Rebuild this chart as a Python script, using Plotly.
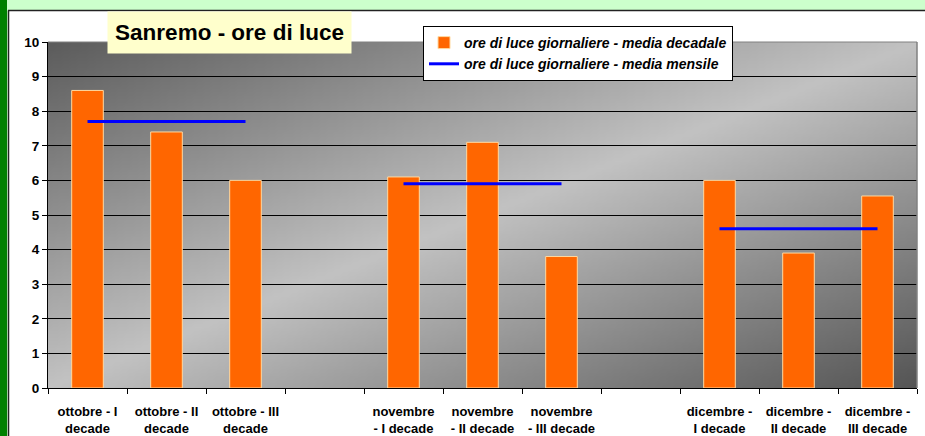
import base64, struct, zlib
import plotly.graph_objects as go

# ---- data ----
categories = ["ottobre - I<br>decade", "ottobre - II<br>decade", "ottobre - III<br>decade", "",
              "novembre<br>- I decade", "novembre<br>- II decade", "novembre<br>- III decade", "",
              "dicembre -<br>I decade", "dicembre -<br>II decade", "dicembre -<br>III decade"]
decade_values = [8.6, 7.4, 6.0, None, 6.1, 7.1, 3.8, None, 6.0, 3.9, 5.55]
month_means = [7.7, 5.9, 4.6]
month_first_idx = [0, 4, 8]
month_last_idx = [2, 6, 10]
y_ticks = list(range(0, 11))

# ---- geometry helpers (pixel layout) ----
W, H = 925, 436
ML, MR, MT, MB = 48, 8, 42, 48
PW, PH = W - ML - MR, H - MT - MB
def px(x):
    return (x - ML) / PW
def py(y):
    return (H - MB - y) / PH

# ---- gradient background image ----
def gradient_uri(w=240, h=100, dark_tl=0x5c, light=0xc2, dark_br=0x55):
    rows = []
    for j in range(h):
        yd = 1 - j / (h - 1)
        row = bytearray([0])
        for i in range(w):
            xd = i / (w - 1)
            t = (xd + (1 - yd)) / 2
            if t <= 0.5:
                v = dark_tl + (light - dark_tl) * (t / 0.5)
            else:
                v = light + (dark_br - light) * ((t - 0.5) / 0.5)
            v = int(round(v))
            row += bytes([v, v, v])
        rows.append(bytes(row))
    raw = b"".join(rows)
    def chunk(tag, data):
        c = struct.pack(">I", len(data)) + tag + data
        return c + struct.pack(">I", zlib.crc32(tag + data) & 0xffffffff)
    png = b"\x89PNG\r\n\x1a\n" + chunk(b"IHDR", struct.pack(">IIBBBBB", w, h, 8, 2, 0, 0, 0)) \
        + chunk(b"IDAT", zlib.compress(raw, 9)) + chunk(b"IEND", b"")
    return "data:image/png;base64," + base64.b64encode(png).decode()

FONT = "Arial, Liberation Sans, sans-serif"
TICK_SIZE = 13.5
XTICK_SIZE = 13
xs = list(range(len(categories)))

fig = go.Figure()
fig.add_trace(go.Bar(
    x=xs, y=decade_values, width=0.4,
    name="ore di luce giornaliere - media decadale",
    marker=dict(color="#FF6600", line=dict(color="#FFD9A0", width=1)),
))
lx, ly = [], []
for a, b, m in zip(month_first_idx, month_last_idx, month_means):
    lx += [xs[a], xs[b], None]
    ly += [m, m, None]
fig.add_trace(go.Scatter(
    x=lx, y=ly, mode="lines", name="ore di luce giornaliere - media mensile",
    line=dict(color="#0000FF", width=3),
))

tick_pos = [x for x, c in zip(xs, categories) if c]
tick_txt = [c for c in categories if c]

fig.update_layout(
    width=W, height=H,
    margin=dict(l=ML, r=MR, t=MT, b=MB),
    paper_bgcolor="white", plot_bgcolor="rgba(0,0,0,0)",
    font=dict(family=FONT, size=12, color="black"),
    showlegend=True,
    legend=dict(
        x=px(423), y=py(26), xanchor="left", yanchor="top",
        bgcolor="white", bordercolor="black", borderwidth=1,
        font=dict(family=FONT, size=14, weight="bold", style="italic", color="black"),
        tracegroupgap=0, itemwidth=30,
    ),
    xaxis=dict(
        range=[-0.5, len(categories) - 0.5], automargin=False,
        tickvals=tick_pos, ticktext=tick_txt, ticks="",
        tickfont=dict(family=FONT, size=XTICK_SIZE, weight="bold"),
        ticklabelstandoff=11,
        showline=True, linecolor="black", linewidth=1,
        showgrid=False, zeroline=False,
        minor=dict(tickvals=[i - 0.5 for i in range(len(categories) + 1)],
                   ticks="outside", ticklen=5, tickcolor="black", tickwidth=1, showgrid=False),
    ),
    yaxis=dict(
        range=[0, 10], automargin=False, tickvals=y_ticks, ticks="outside", ticklen=5, tickcolor="black",
        tickfont=dict(family=FONT, size=TICK_SIZE, weight="bold"),
        showline=True, linecolor="black", linewidth=1,
        showgrid=True, gridcolor="black", gridwidth=1, zeroline=False,
    ),
    images=[dict(source=gradient_uri(), xref="x domain", yref="y domain",
                 x=0, y=1, sizex=1, sizey=1, sizing="stretch", layer="below", xanchor="left", yanchor="top")],
    shapes=[
        # outer light green band and dark green strip
        dict(type="rect", xref="paper", yref="paper", x0=px(0), x1=px(W), y0=py(0), y1=py(10),
             fillcolor="#CCFFCC", line=dict(width=0), layer="below"),
        dict(type="rect", xref="paper", yref="paper", x0=px(0), x1=px(8), y0=py(0), y1=py(H),
             fillcolor="#CCFFCC", line=dict(width=0), layer="below"),
        dict(type="rect", xref="paper", yref="paper", x0=px(0), x1=px(7), y0=py(0), y1=py(H),
             fillcolor="#008000", line=dict(width=0), layer="below"),
        dict(type="line", xref="paper", yref="paper", x0=px(8), x1=px(W), y0=py(10.5), y1=py(10.5),
             line=dict(color="#222222", width=1.5)),
        dict(type="line", xref="paper", yref="paper", x0=px(8.5), x1=px(8.5), y0=py(10.5), y1=py(H),
             line=dict(color="#222222", width=1.5)),
        # plot area gray border (top, right)
        dict(type="line", xref="paper", yref="paper", x0=0, x1=1, y0=1, y1=1,
             line=dict(color="#808080", width=1)),
        dict(type="line", xref="paper", yref="paper", x0=1, x1=1, y0=0, y1=1,
             line=dict(color="#808080", width=1.5)),
    ],
    annotations=[dict(
        text="<b>Sanremo - ore di luce</b>", xref="paper", yref="paper",
        x=px(229.5), y=py(32.5), xanchor="center", yanchor="middle",
        showarrow=False, bgcolor="#FFFFCC", width=241, height=39,
        font=dict(family=FONT, size=22.5, color="black"),
    )],
)

fig.write_html("out.html", config={"displayModeBar": False},
               post_script="document.body.style.margin='0';document.body.style.overflow='hidden';")
